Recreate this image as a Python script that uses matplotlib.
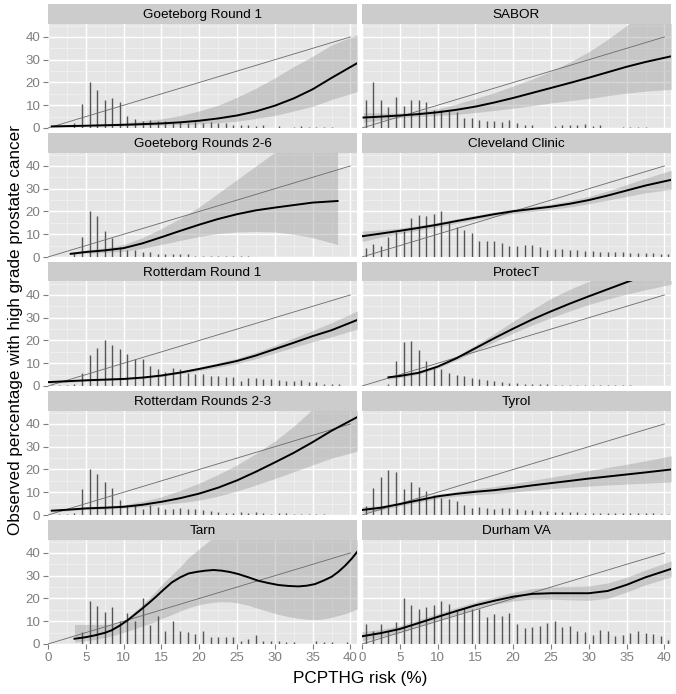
import numpy as np
import matplotlib
matplotlib.use("Agg")
import matplotlib.pyplot as plt

plt.rcParams['font.family'] = ['Liberation Sans', 'DejaVu Sans']

# panel order: row by row, left then right
panels = ['Goeteborg Round 1', 'SABOR',
          'Goeteborg Rounds 2-6', 'Cleveland Clinic',
          'Rotterdam Round 1', 'ProtecT',
          'Rotterdam Rounds 2-3', 'Tyrol',
          'Tarn', 'Durham VA']

# histogram spikes, one value per 1% bin starting at 0.5
spikes = {
    'Goeteborg Round 1': [0, 0, 0, 2, 10.5, 20, 16.5, 12.2, 13.2, 11.3, 5.3, 4, 3, 3.5, 3, 3, 2, 2.5, 2,
                          2.5, 2, 2.5, 2, 2, 1.5, 1.5, 1.5, 1, 1.5, 0, 1, 0, 0.5, 1, 0.5, 0.5, 0.5, 0.5],
    'SABOR': [12.2, 20.4, 12.5, 9.3, 13.4, 9.6, 12.2, 12.5, 11.5, 7.8, 7.8, 7.4, 7, 4.4, 4.5, 3.4, 3, 3,
              2.7, 3.4, 2, 1.5, 1.2, 0, 0, 1, 1.2, 1.3, 1.2, 1.8, 1, 1.2, 0, 0, 0.6, 0.6, 0.6, 0.6],
    'Goeteborg Rounds 2-6': [0, 0, 0, 1.7, 9, 20, 18, 11.3, 8.4, 4.3, 3.2, 2.9, 2.2, 2, 1.5, 1.5, 1.5,
                             1.2, 1.2, 0.6, 0.6, 0.5, 0.5, 0.5, 0.5, 0.5, 0.5],
    'Cleveland Clinic': [4, 5.5, 5, 8.7, 10.8, 11.5, 17.3, 18.5, 17.8, 19, 20, 15.2, 13, 11.8, 10.5, 7.2,
                         7.2, 7.2, 6.2, 5, 5, 5.3, 5.3, 4.3, 3.2, 3.6, 3.6, 2.9, 2.9, 2.6, 2.6, 2.3,
                         2.3, 2.3, 2.2, 1.9, 1.9, 1.7, 1.7, 1.2, 1.2],
    'Rotterdam Round 1': [0.5, 0.5, 0.5, 0.8, 5.5, 13.5, 16.8, 20.3, 18.1, 16.4, 13.9, 11.7, 12, 9, 7.5,
                          6, 8, 7.5, 5.7, 5.4, 5.1, 4.6, 4.2, 3.9, 3.9, 2.2, 3.5, 3.5, 3.2, 3.2, 2.5,
                          2.2, 2.2, 2.5, 1.7, 1.7, 1, 1, 0.8],
    'ProtecT': [0, 0, 0, 1, 11.2, 19.2, 19.9, 15.9, 11.2, 7.9, 7.6, 5.7, 4.7, 4.2, 3.5, 2.9, 2.5, 2,
                1.7, 1.5, 1.3, 1, 1, 0.7, 0.7, 0.6, 0.6, 0.5, 0.5, 0.5, 0.4, 0.4, 0.4, 0.3, 0.3, 0.3],
    'Rotterdam Rounds 2-3': [0, 0.5, 0.5, 1, 11.5, 20.2, 18, 14.4, 12, 6.5, 4.3, 4.6, 2.5, 4.3, 3.6, 2.5,
                             2.5, 2.9, 2.6, 2.5, 2.2, 1.9, 1.4, 1, 1, 1.2, 1, 1.2, 0.8, 0.5, 0.8, 0.8,
                             0.5, 0.5, 0.5, 0.5, 0.5],
    'Tyrol': [3.9, 11.8, 16.9, 19.8, 19.1, 11.6, 14.5, 12.2, 10.7, 9, 7.5, 7.2, 6.1, 4.6, 3.2, 3.6, 3.2,
              2.5, 2.9, 3.2, 2.5, 2.2, 2, 1.7, 1.7, 1.4, 1.4, 1.2, 1.2, 1, 1, 0.9, 0.9, 0.9, 0.9, 0.7,
              0.7, 0.7, 0.7, 0.6, 0.6],
    'Tarn': [0, 0, 0, 0, 5.2, 19, 16.9, 14, 16.2, 9.9, 13.8, 10, 20.1, 8.4, 12.2, 5.5, 10, 5.5, 5.2, 4.5,
             5.5, 3.1, 3.1, 3.1, 3.1, 1.2, 2.3, 3.8, 1.3, 1.3, 1.3, 1, 0.7, 0, 0, 1.2, 0.7, 0.7, 0, 0.7],
    'Durham VA': [8.6, 5.6, 8.6, 5.6, 9.6, 20.4, 17, 15.2, 16.4, 17, 18.9, 17.4, 14.5, 15.9, 15.2, 15.2,
                  11.9, 13, 12.5, 13.4, 8.6, 7.1, 7.4, 8.1, 9.3, 10.3, 7.5, 7.8, 5.9, 5.2, 4.1, 6.3,
                  5.6, 3.7, 4.1, 4.9, 5.6, 4.9, 4.4, 3.4, 1.9],
}

# smoothed calibration curve and its confidence band
curve_x = {
    'Goeteborg Round 1': [0.5, 5, 10, 15, 17.5, 20, 22.5, 25, 27.5, 30, 32.5, 35, 37.5, 40.9],
    'SABOR': [0.2, 2.5, 5, 7.5, 10, 12.5, 15, 17.5, 20, 22.5, 25, 27.5, 30, 32.5, 35, 37.5, 40.9],
    'Goeteborg Rounds 2-6': [3, 5, 7.5, 10, 12.5, 15, 17.5, 20, 22.5, 25, 27.5, 30, 32.5, 35, 38.3],
    'Cleveland Clinic': [0, 2.5, 5, 7.5, 10, 12.5, 15, 17.5, 20, 22.5, 25, 27.5, 30, 32.5, 35, 37.5, 40.9],
    'Rotterdam Round 1': [0, 2.5, 5, 7.5, 10, 12.5, 15, 17.5, 20, 22.5, 25, 27.5, 30, 32.5, 35, 37.5, 40.9],
    'ProtecT': [3.5, 5, 7.5, 10, 12.5, 15, 17.5, 20, 22.5, 25, 27.5, 30, 32.5, 35, 37.5, 40.9],
    'Rotterdam Rounds 2-3': [0.5, 2.5, 5, 7.5, 10, 12.5, 15, 17.5, 20, 22.5, 25, 27.5, 30, 32.5, 35, 37.5, 40.9],
    'Tyrol': [0, 2.5, 5, 7.5, 10, 12.5, 15, 17.5, 20, 22.5, 25, 27.5, 30, 32.5, 35, 37.5, 40.9],
    'Tarn': [3.5, 5, 6.2, 7.5, 8.4, 9.5, 10.6, 11.5, 12.4, 13.3, 14.2, 15.3, 16.4, 17.5, 18.6, 19.7, 20.8,
             21.9, 23.0, 24.1, 25.2, 26.5, 27.8, 29.1, 30.5, 31.8, 33.1, 34.2, 35.3, 36.4, 37.5, 38.4,
             39.3, 40.2, 40.9],
    'Durham VA': [0, 2.5, 5, 7.5, 10, 12.5, 15, 17.5, 20, 22.5, 25, 27.5, 30, 32.5, 35, 37.5, 40.9],
}
curve_mid = {
    'Goeteborg Round 1': [0.7, 1.0, 1.4, 2.0, 2.5, 3.2, 4.2, 5.5, 7.3, 9.8, 13, 17, 22, 28.5],
    'SABOR': [4.6, 5.0, 5.5, 6.1, 6.9, 8.0, 9.4, 11.2, 13.2, 15.4, 17.6, 19.8, 22.1, 24.5, 26.9, 29.0, 31.5],
    'Goeteborg Rounds 2-6': [1.4, 2.2, 2.9, 3.9, 6.0, 8.7, 11.5, 14.2, 16.7, 18.8, 20.5, 21.7, 22.8, 23.9, 24.6],
    'Cleveland Clinic': [9.1, 10.3, 11.5, 12.8, 14.2, 15.8, 17.3, 18.8, 20.1, 21.1, 22.1, 23.4, 25.0, 27.0,
                         29.2, 31.4, 33.9],
    'Rotterdam Round 1': [1.7, 2.1, 2.5, 2.8, 3.1, 3.7, 4.6, 5.9, 7.5, 9.2, 11.0, 13.4, 16.2, 19.0, 21.9,
                          24.5, 29.0],
    'ProtecT': [3.8, 4.4, 5.8, 8.5, 12.2, 16.6, 21.0, 25.2, 29.2, 32.8, 36.2, 39.4, 42.5, 45.6, 48.5, 52],
    'Rotterdam Rounds 2-3': [1.9, 2.3, 2.9, 3.2, 3.6, 4.5, 5.8, 7.4, 9.4, 12.0, 15.2, 19.0, 23.1, 27.3,
                             32.0, 37.0, 43.0],
    'Tyrol': [2.2, 3.2, 4.8, 6.5, 8.2, 9.3, 10.2, 10.9, 11.9, 13.0, 14.0, 15.0, 16.0, 16.9, 17.8, 18.7, 20.0],
    'Tarn': [2.3, 3.0, 3.8, 4.9, 6.0, 8.1, 10.6, 13.0, 15.4, 17.9, 20.5, 23.9, 27.1, 29.3, 31.0, 31.7, 32.2,
             32.5, 32.2, 31.6, 30.7, 29.3, 27.8, 26.8, 25.9, 25.5, 25.3, 25.6, 26.3, 27.8, 29.5, 31.7,
             34.4, 37.6, 40.5],
    'Durham VA': [3.4, 4.8, 6.6, 9.2, 11.9, 14.5, 17.0, 19.0, 20.8, 22.0, 22.3, 22.3, 22.3, 23.3, 26.0,
                  29.3, 33.0],
}
curve_hi = {
    'Goeteborg Round 1': [1.2, 1.5, 2.3, 4.0, 5.5, 7.5, 10, 13.5, 17.5, 22, 27, 31.5, 36.5, 41],
    'SABOR': [6.8, 6.6, 6.6, 7.2, 8.5, 10.5, 13, 15.5, 18.5, 21.5, 25, 29, 33.5, 39, 45, 51, 58],
    'Goeteborg Rounds 2-6': [1.8, 3.0, 4.0, 5.5, 8.5, 12.5, 17, 22, 28, 34, 40, 46, 52, 58, 64],
    'Cleveland Clinic': [11.4, 11.9, 12.7, 13.8, 15.2, 16.8, 18.3, 19.8, 21.1, 22.2, 23.3, 24.8, 26.6, 29.0,
                         31.8, 34.6, 38.1],
    'Rotterdam Round 1': [2.3, 2.6, 2.9, 3.2, 3.6, 4.2, 5.1, 6.5, 8.3, 10.2, 12.2, 14.8, 17.9, 21.1, 24.4,
                          27.8, 33],
    'ProtecT': [4.6, 5.1, 6.5, 9.2, 13.2, 18.0, 23.0, 28.5, 33.5, 38.5, 42.5, 46, 50, 54, 58, 63],
    'Rotterdam Rounds 2-3': [2.4, 2.8, 3.4, 3.9, 4.5, 6.0, 8.0, 10.8, 14.0, 17.8, 22.0, 27.0, 32.5, 39.0,
                             46.5, 53, 60],
    'Tyrol': [3.6, 4.2, 5.7, 7.4, 9.2, 10.4, 11.5, 12.5, 13.8, 15.2, 16.6, 18.0, 19.5, 20.9, 22.3, 23.8, 26],
    'Tarn': [8.6, 8.6, 8.6, 8.6, 8.6, 9.0, 11.8, 14.5, 17, 20, 23, 27, 30.5, 34, 38, 41, 44, 47, 49, 51,
             53, 54, 55, 56, 56, 56, 56, 56, 55, 55, 55, 55, 55, 56, 57],
    'Durham VA': [5.4, 6.4, 8.1, 10.7, 13.4, 16.0, 18.5, 20.6, 22.7, 24.3, 25.0, 25.3, 25.5, 26.8, 29.3,
                  32.5, 36.5],
}
curve_lo = {
    'Goeteborg Round 1': [0.3, 0.7, 1.0, 1.3, 1.5, 1.8, 2.3, 3.0, 4.2, 5.5, 7.5, 9.5, 12.5, 16],
    'SABOR': [2.5, 3.5, 4.5, 5.0, 5.5, 6.0, 6.8, 7.7, 8.7, 9.8, 11, 12, 13, 14.2, 15.3, 16.2, 17],
    'Goeteborg Rounds 2-6': [1.0, 1.6, 2.0, 2.5, 3.8, 5.5, 7.3, 9.0, 10.3, 11, 11.2, 11, 10, 8.5, 5.5],
    'Cleveland Clinic': [6.8, 8.7, 10.3, 11.8, 13.2, 14.8, 16.3, 17.8, 19.1, 20.0, 20.9, 22.0, 23.4, 25.0,
                         26.6, 28.2, 29.7],
    'Rotterdam Round 1': [1.1, 1.6, 2.1, 2.4, 2.7, 3.2, 4.1, 5.3, 6.7, 8.2, 9.8, 12.0, 14.5, 17.0, 19.4,
                          21.6, 25],
    'ProtecT': [3.0, 3.7, 5.1, 7.8, 11.3, 15.3, 19.3, 23.2, 26.8, 30.0, 33.0, 35.8, 38.2, 40.3, 42.3, 44.7],
    'Rotterdam Rounds 2-3': [1.4, 1.8, 2.4, 2.6, 3.0, 3.6, 4.5, 5.4, 6.5, 8.3, 10.5, 13.2, 16.0, 19.0,
                             22.0, 25.0, 28],
    'Tyrol': [0.9, 2.2, 3.9, 5.6, 7.2, 8.2, 8.9, 9.4, 10.1, 10.9, 11.6, 12.2, 12.7, 13.2, 13.6, 14.0, 14.5],
    'Tarn': [0.8, 1.4, 2.0, 2.8, 3.5, 4.6, 5.8, 6.8, 7.8, 8.8, 9.9, 11.5, 13.0, 14.5, 15.9, 17.0, 17.8,
             18.3, 18.6, 18.5, 18.0, 17.0, 15.6, 14.3, 13.0, 12.0, 11.3, 10.9, 10.7, 11.0, 11.7, 12.5,
             13.3, 14.4, 15.4],
    'Durham VA': [1.4, 3.2, 5.1, 7.7, 10.4, 13.0, 15.5, 17.4, 18.9, 19.8, 19.7, 19.4, 19.2, 20.0, 22.8,
                  26.0, 29.5],
}

x_ticks = [0, 5, 10, 15, 20, 25, 30, 35, 40]
y_ticks = [0, 10, 20, 30, 40]

W, H = 676, 694
fig = plt.figure(figsize=(W / 100, H / 100), dpi=100)

col_left = [48, 362]
panel_w = 309
row_top = [4, 133, 262, 391, 520]
strip_h = 19.5
panel_h = 104.5
x_max = 40.87
y_max = 45.9

tick_col = '#7F7F7F'

for i, name in enumerate(panels):
    r, c = divmod(i, 2)
    left = col_left[c] / W
    top = row_top[r] / H

    # strip on top of the panel
    sax = fig.add_axes([left, 1 - top - strip_h / H, panel_w / W, strip_h / H])
    sax.set_facecolor('#CCCCCC')
    sax.set_xticks([])
    sax.set_yticks([])
    for sp in sax.spines.values():
        sp.set_visible(False)
    sax.text(0.5, 0.45, name, ha='center', va='center', fontsize=9.7, color='black',
             transform=sax.transAxes)

    ax = fig.add_axes([left, 1 - top - (strip_h + panel_h) / H, panel_w / W, panel_h / H])
    ax.set_facecolor('#E5E5E5')
    for sp in ax.spines.values():
        sp.set_visible(False)
    ax.set_xlim(0, x_max)
    ax.set_ylim(0, y_max)
    ax.set_xticks(x_ticks)
    ax.set_yticks(y_ticks)
    ax.set_xticks(np.arange(2.5, x_max, 5), minor=True)
    ax.set_yticks(np.arange(5, y_max, 10), minor=True)
    ax.grid(which='major', color='white', lw=1.0)
    ax.grid(which='minor', color='#F2F2F2', lw=0.5)
    ax.set_axisbelow(True)
    ax.tick_params(which='minor', length=0)
    ax.tick_params(which='major', colors=tick_col, labelcolor=tick_col, labelsize=9.6,
                   length=3.5, width=0.8, pad=2)
    if c != 0:
        ax.tick_params(axis='y', length=0, labelleft=False)
    if r != 4:
        ax.tick_params(axis='x', length=0, labelbottom=False)

    cx = curve_x[name]
    ax.fill_between(cx, curve_lo[name], curve_hi[name], color='#999999', alpha=0.4, lw=0, zorder=2)

    h = spikes[name]
    sx = np.arange(len(h)) + 0.5
    ax.vlines(sx, 0, h, color='#555555', lw=1.0, zorder=3)

    ax.plot([0, 40], [0, 40], color='#6A6A6A', lw=0.6, zorder=4)
    ax.plot(cx, curve_mid[name], color='black', lw=1.4, zorder=5)

fig.text(360 / W, 1 - 679 / H, 'PCPTHG risk (%)', ha='center', va='center', fontsize=12.3)
fig.text(16 / W, 1 - 330 / H, 'Observed percentage with high grade prostate cancer',
         ha='center', va='center', rotation=90, fontsize=12.3)

fig.savefig('out.png', dpi=100)
